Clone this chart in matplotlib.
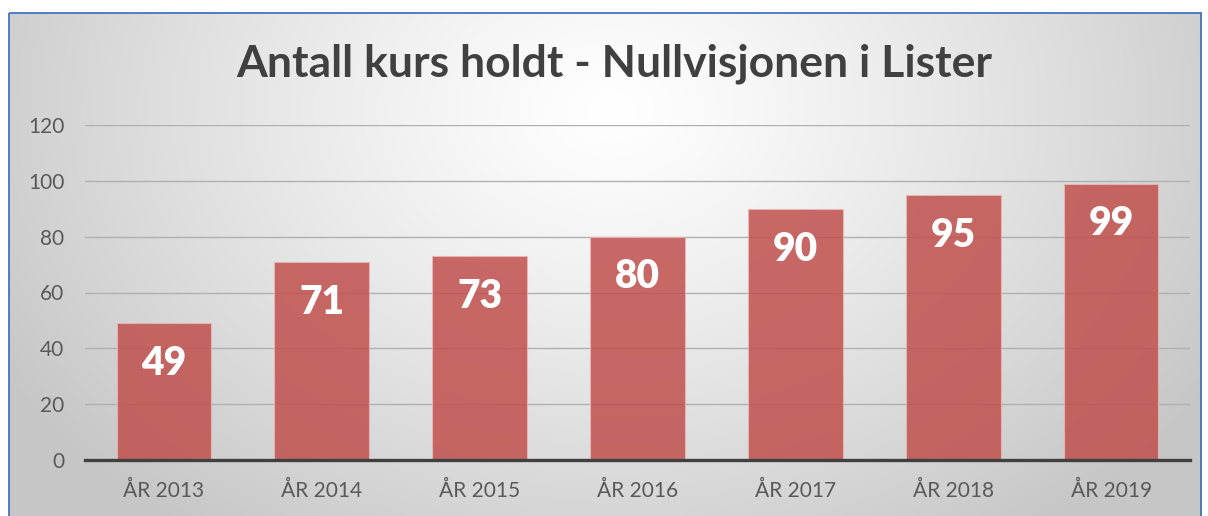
import numpy as np
import matplotlib
matplotlib.use("Agg")
import matplotlib.pyplot as plt
from matplotlib.patches import Rectangle

YEARS = ["ÅR 2013", "ÅR 2014", "ÅR 2015", "ÅR 2016", "ÅR 2017", "ÅR 2018", "ÅR 2019"]
COURSES = [49, 71, 73, 80, 90, 95, 99]
Y_TICKS = [0, 20, 40, 60, 80, 100, 120]
TITLE = "Antall kurs holdt - Nullvisjonen i Lister"

W, H = 1208, 516


def main():
    plt.rcParams["font.family"] = ["Lato", "DejaVu Sans"]
    fig = plt.figure(figsize=(W / 100, H / 100), dpi=100)
    fig.patch.set_facecolor("white")

    # radial grey gradient behind the chart area
    bg = fig.add_axes([0, 0, 1, 1], zorder=0)
    yy, xx = np.mgrid[0:H, 0:W]
    cx, cy = 610, 110
    r = np.sqrt(((xx - cx) / 700.0) ** 2 + ((yy - cy) / 520.0) ** 2)
    shade = 1.0 - 0.22 * np.clip(r, 0, 1) ** 1.2
    img = np.dstack([shade, shade, shade])
    # white margin outside the frame
    img[:13, :, :] = 1.0
    img[:, :9, :] = 1.0
    img[:, 1202:, :] = 1.0
    bg.imshow(img, extent=[0, W, H, 0], aspect="auto", interpolation="bilinear")
    bg.add_patch(Rectangle((9, 13), 1192, 520, fill=False, edgecolor="#4472C4", linewidth=1.3))
    bg.set_xlim(0, W)
    bg.set_ylim(H, 0)
    bg.axis("off")

    ax = fig.add_axes([85 / W, 1 - 460 / H, 1105 / W, 335 / H], zorder=1)
    ax.patch.set_alpha(0)

    x = np.arange(len(YEARS))
    bars = ax.bar(x, COURSES, width=0.6, color="#C0504D", alpha=0.85,
                  edgecolor="#E8B8B7", linewidth=0.8, zorder=3)
    for rect, v in zip(bars, COURSES):
        ax.annotate(str(v), (rect.get_x() + rect.get_width() / 2, v),
                    xytext=(0, -29), textcoords="offset points",
                    ha="center", va="center", color="white",
                    fontsize=28, fontweight="heavy", zorder=4)

    ax.set_xlim(-0.5, len(YEARS) - 0.5)
    ax.set_ylim(0, 120)
    ax.set_yticks(Y_TICKS)
    ax.set_xticks(x)
    ax.set_xticklabels(YEARS)
    ax.yaxis.grid(True, color="#B0B0B0", linewidth=1.0, zorder=1)
    ax.set_axisbelow(True)
    for side in ["top", "right", "left"]:
        ax.spines[side].set_visible(False)
    ax.spines["bottom"].set_color("#404040")
    ax.spines["bottom"].set_linewidth(2.4)
    ax.spines["bottom"].set_zorder(5)
    ax.tick_params(axis="both", length=0, labelsize=15, labelcolor="#595959")
    ax.tick_params(axis="y", pad=15)
    ax.tick_params(axis="x", pad=15)

    fig.text(614 / W, 1 - 64 / H, TITLE, ha="center", va="center",
             fontsize=32, fontweight="bold", color="#404040")

    fig.savefig("out.png", dpi=100)


if __name__ == "__main__":
    main()
